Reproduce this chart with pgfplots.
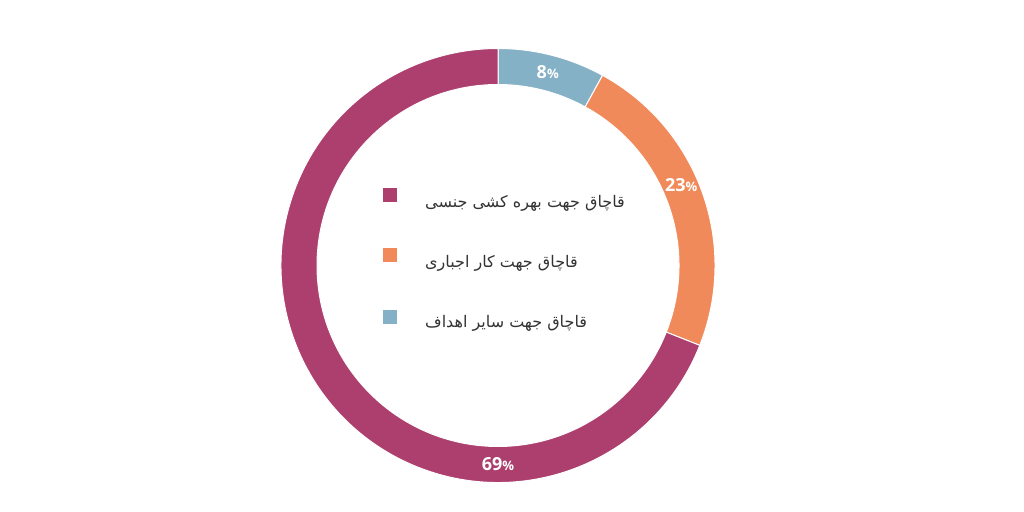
\documentclass[border=0pt]{standalone}
\usepackage{pgfplots}
\pgfplotsset{compat=1.18}
\usepackage{fontspec}
\setmainfont{Open Sans}
\newfontfamily\arabicfont[Script=Arabic]{DejaVu Sans}
\TeXXeTstate=1

\definecolor{sexual}{HTML}{AD3F6F}
\definecolor{forced}{HTML}{F18A5A}
\definecolor{other}{HTML}{84B1C6}

% shares in percent, clockwise from the top
\def\vOther{8}
\def\vForced{23}
\def\vSexual{69}

\begin{document}
\begin{tikzpicture}
\begin{axis}[
    x=1pt, y=1pt,
    xmin=0, xmax=1024, ymin=0, ymax=506,
    scale only axis,
    hide axis,
    clip=false,
]
\path (axis cs:0,0) rectangle (axis cs:1024,506);
\coordinate (c) at (axis cs:498,240.5);

% donut slices
\pgfmathsetmacro{\aA}{90}
\pgfmathsetmacro{\aB}{90-3.6*\vOther}
\pgfmathsetmacro{\aC}{\aB-3.6*\vForced}
\pgfmathsetmacro{\aD}{\aC-3.6*\vSexual}

\edef\temp{\noexpand\fill[other, draw=white, line width=1pt]
  ([shift={(\aA:217pt)}]c) arc[start angle=\aA, end angle=\aB, radius=217pt]
  -- ([shift={(\aB:181pt)}]c) arc[start angle=\aB, end angle=\aA, radius=181pt] -- cycle;}
\temp
\edef\temp{\noexpand\fill[forced, draw=white, line width=1pt]
  ([shift={(\aB:217pt)}]c) arc[start angle=\aB, end angle=\aC, radius=217pt]
  -- ([shift={(\aC:181pt)}]c) arc[start angle=\aC, end angle=\aB, radius=181pt] -- cycle;}
\temp
\edef\temp{\noexpand\fill[sexual, draw=white, line width=1pt]
  ([shift={(\aC:217pt)}]c) arc[start angle=\aC, end angle=\aD, radius=217pt]
  -- ([shift={(\aD:181pt)}]c) arc[start angle=\aD, end angle=\aC, radius=181pt] -- cycle;}
\temp

% value labels
\tikzset{vlab/.style={text=white, inner sep=0pt, font=\bfseries\fontsize{18}{20}\selectfont}}
\node[vlab] at ([shift={(75.6:200pt)}]c) {\vOther{\fontsize{13}{14}\selectfont\%}};
\node[vlab] at ([shift={(23.6:200pt)}]c) {\vForced{\fontsize{13}{14}\selectfont\%}};
\node[vlab] at ([shift={(-90:199pt)}]c) {\vSexual{\fontsize{13}{14}\selectfont\%}};

% legend
\fill[sexual] (axis cs:383,304) rectangle (axis cs:397,318);
\fill[forced] (axis cs:383,244) rectangle (axis cs:397,258);
\fill[other]  (axis cs:383,182) rectangle (axis cs:397,196);
\tikzset{ltxt/.style={anchor=west, inner sep=0pt, text=black!80, font=\fontsize{16}{18}\selectfont}}
\node[ltxt] at (axis cs:425,303) {\arabicfont\beginR قاچاق جهت بهره کشی جنسی\endR};
\node[ltxt] at (axis cs:425,243) {\arabicfont\beginR قاچاق جهت کار اجباری\endR};
\node[ltxt] at (axis cs:425,183) {\arabicfont\beginR قاچاق جهت سایر اهداف\endR};
\end{axis}
\end{tikzpicture}
\end{document}
